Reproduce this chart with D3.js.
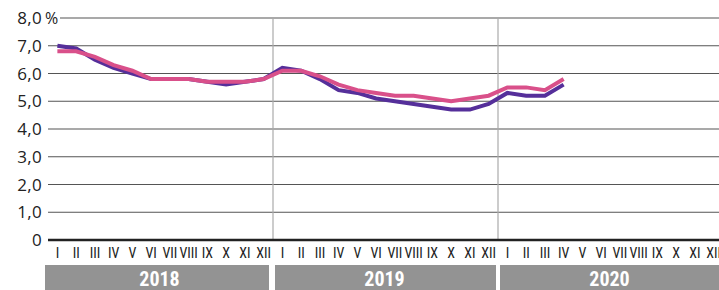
<!DOCTYPE html>
<html>
<head>
<meta charset="utf-8">
<script src="https://cdn.jsdelivr.net/npm/d3@7"></script>
<style>
    body { margin: 0; background: #fff; }
    svg text { font-family: "Liberation Sans Narrow", "Roboto Condensed", "Open Sans", sans-serif; }
    svg text.ytick { font-family: "Open Sans", "Noto Sans", sans-serif; }
</style>
</head>
<body>
<svg id="chart" width="719" height="290"></svg>
<script>
const years = ["2018", "2019", "2020"]
const months = ["I", "II", "III", "IV", "V", "VI", "VII", "VIII", "IX", "X", "XI", "XII"]
const yTicks = [0, 1, 2, 3, 4, 5, 6, 7, 8]

// purple series, Jan 2018 .. Apr 2020
const seriesPurple = [7.0, 6.9, 6.5, 6.2, 6.0, 5.8, 5.8, 5.8, 5.7, 5.6, 5.7, 5.8,
                      6.2, 6.1, 5.8, 5.4, 5.3, 5.1, 5.0, 4.9, 4.8, 4.7, 4.7, 4.9,
                      5.3, 5.2, 5.2, 5.6]
// pink series
const seriesPink = [6.8, 6.8, 6.6, 6.3, 6.1, 5.8, 5.8, 5.8, 5.7, 5.7, 5.7, 5.8,
                    6.1, 6.1, 5.9, 5.6, 5.4, 5.3, 5.2, 5.2, 5.1, 5.0, 5.1, 5.2,
                    5.5, 5.5, 5.4, 5.8]

const svg = d3.select("#chart")

const plotLeft = 48, plotRight = 723, plotTop = 18, plotBottom = 240

const keys = []
years.forEach(y => months.forEach(m => keys.push(y + "-" + m)))

const x = d3.scaleBand().domain(keys).range([plotLeft, plotRight])
const xYear = d3.scaleBand().domain(years).range([plotLeft, plotRight])
const y = d3.scaleLinear().domain([0, 8]).range([plotBottom, plotTop])

// gridlines
svg.append("g")
   .selectAll("line")
   .data(yTicks.filter(t => t > 0))
   .enter()
   .append("line")
   .attr("x1", t => t === 8 ? 60 : plotLeft)
   .attr("x2", 719)
   .attr("y1", t => y(t))
   .attr("y2", t => y(t))
   .attr("stroke", "#555")
   .attr("stroke-width", 1.2)

// year dividers
svg.append("g")
   .selectAll("line")
   .data(years.slice(1))
   .enter()
   .append("line")
   .attr("x1", d => xYear(d))
   .attr("x2", d => xYear(d))
   .attr("y1", plotTop)
   .attr("y2", plotBottom)
   .attr("stroke", "#aaa")
   .attr("stroke-width", 1.2)

// baseline
svg.append("line")
   .attr("x1", plotLeft)
   .attr("x2", 719)
   .attr("y1", y(0))
   .attr("y2", y(0))
   .attr("stroke", "#222")
   .attr("stroke-width", 2.5)

// y tick labels
svg.append("g")
   .selectAll("text")
   .data(yTicks)
   .enter()
   .append("text")
   .attr("class", "ytick")
   .attr("x", 42)
   .attr("y", t => y(t))
   .attr("dy", "0.36em")
   .attr("text-anchor", "end")
   .attr("font-size", 17)
   .attr("letter-spacing", 0.3)
   .attr("fill", "#222")
   .text(t => t === 0 ? "0" : d3.format(".1f")(t).replace(".", ","))

svg.append("text")
   .attr("class", "ytick")
   .attr("x", 45)
   .attr("y", y(8))
   .attr("dy", "0.36em")
   .attr("font-size", 16)
   .attr("fill", "#222")
   .text("%")

// month labels
svg.append("g")
   .selectAll("text")
   .data(keys)
   .enter()
   .append("text")
   .attr("x", k => x(k) + x.bandwidth() / 2)
   .attr("y", 258)
   .attr("text-anchor", "middle")
   .attr("font-size", 14)
   .attr("fill", "#222")
   .text(k => k.split("-")[1])

// year bands
const yearG = svg.append("g")
yearG.selectAll("rect")
     .data(years)
     .enter()
     .append("rect")
     .attr("x", (d, i) => xYear(d) + (i === 0 ? -3 : 2))
     .attr("width", (d, i) => xYear.bandwidth() - (i === 0 ? 1 : 4))
     .attr("y", 265)
     .attr("height", 25)
     .attr("fill", "#939393")

yearG.selectAll("text")
     .data(years)
     .enter()
     .append("text")
     .attr("x", d => xYear(d) + xYear.bandwidth() / 2 - 1)
     .attr("y", 286)
     .attr("text-anchor", "middle")
     .attr("font-size", 20)
     .attr("font-weight", "bold")
     .attr("fill", "#fff")
     .text(d => d)

// lines
const line = d3.line()
               .x((v, i) => x(keys[i]) + x.bandwidth() / 2)
               .y(v => y(v))

svg.append("path")
   .datum(seriesPurple)
   .attr("d", line)
   .attr("fill", "none")
   .attr("stroke", "#552f9a")
   .attr("stroke-width", 4)

svg.append("path")
   .datum(seriesPink)
   .attr("d", line)
   .attr("fill", "none")
   .attr("stroke", "#d9508a")
   .attr("stroke-width", 4)
</script>
</body>
</html>
